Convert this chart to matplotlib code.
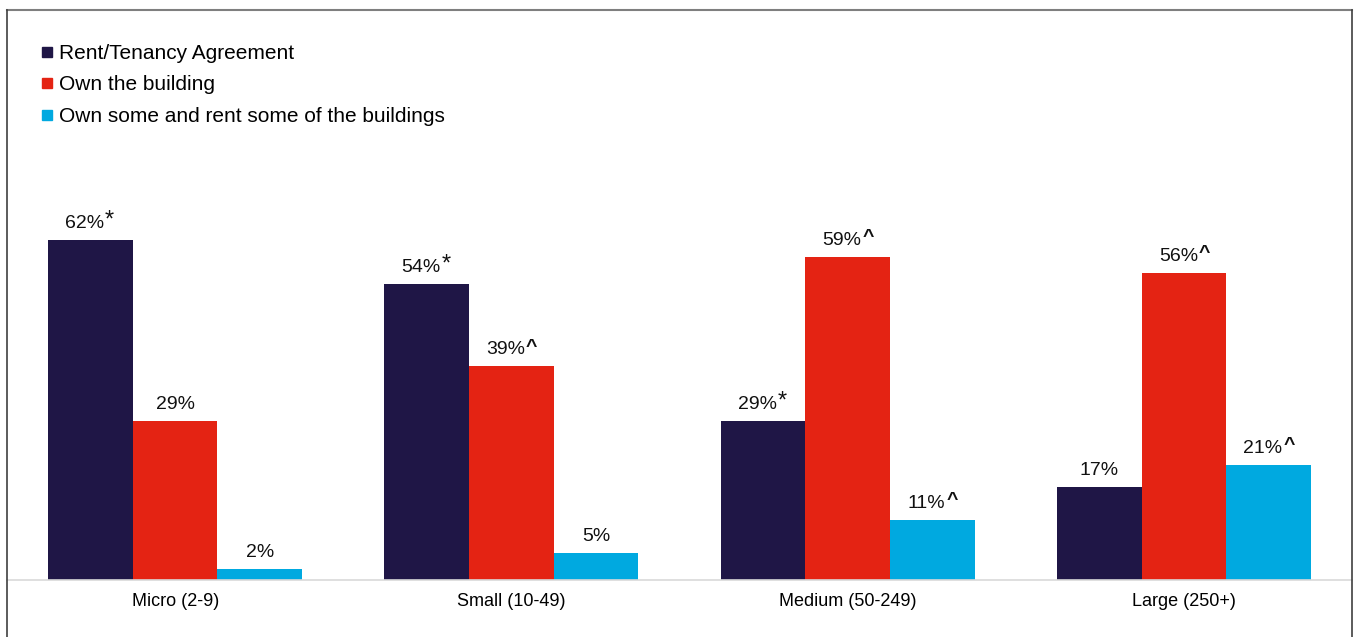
import numpy as np
import matplotlib.pyplot as plt
from matplotlib.lines import Line2D

plt.rcParams['font.family'] = ['Liberation Sans', 'DejaVu Sans']

sizes = ['Micro (2-9)', 'Small (10-49)', 'Medium (50-249)', 'Large (250+)']
series = ['Rent/Tenancy Agreement', 'Own the building',
          'Own some and rent some of the buildings']
rent = [62, 54, 29, 17]
own = [29, 39, 59, 56]
mixed = [2, 5, 11, 21]
# significance markers shown after each label
rent_sig = ['*', '*', '*', '']
own_sig = ['', '^', '^', '^']
mixed_sig = ['', '', '^', '^']

colors = ['#1F1646', '#E42313', '#00A9E0']

W, H = 1357, 637
fig = plt.figure(figsize=(W / 100, H / 100), dpi=100)
ax = fig.add_axes([7 / W, (H - 580) / H, (1352 - 7) / W, (580 - 10) / H])

x = np.arange(len(sizes))
width = 0.252
data = [rent, own, mixed]
sigs = [rent_sig, own_sig, mixed_sig]

for i, (vals, sig, col) in enumerate(zip(data, sigs, colors)):
    xs = x + (i - 1) * width
    ax.bar(xs, vals, width, color=col, label=series[i], zorder=2)
    for xi, v, s in zip(xs, vals, sig):
        shift = -4 if s else 0
        t = ax.annotate(f'{v}%', (xi, v), xytext=(shift, 8.5),
                        textcoords='offset points', ha='center',
                        va='baseline', fontsize=14, color='#111111')
        if s == '*':
            ax.annotate(s, xy=(1.0, 1.0), xycoords=t, xytext=(0.5, 4),
                        textcoords='offset points', ha='left', va='top',
                        fontsize=17, color='#111111')
        elif s == '^':
            ax.annotate(s, xy=(1.0, 1.0), xycoords=t, xytext=(0.5, 2.0),
                        textcoords='offset points', ha='left', va='top',
                        fontsize=14, color='#111111', fontweight='bold')

ax.set_xlim(-0.5, 3.5)
ax.set_ylim(0, 104)
ax.set_xticks(x)
ax.set_xticklabels(sizes, fontsize=13)
ax.tick_params(axis='x', length=0, pad=9)
ax.set_yticks([])
for side in ['top', 'right', 'left']:
    ax.spines[side].set_visible(False)
ax.spines['bottom'].set_color('#D9D9D9')
ax.spines['bottom'].set_linewidth(1.2)

handles = [Line2D([], [], marker='s', linestyle='', markersize=7.5,
                  color=c) for c in colors]
fig.legend(handles, series, loc='upper left',
           bbox_to_anchor=(40 / W, 1 - 44 / H), frameon=False,
           fontsize=15, handlelength=0.7, handletextpad=0.2,
           labelspacing=0.6, borderpad=0, borderaxespad=0)

# outer frame
fy = 1 - 10 / H
fig.add_artist(Line2D([7 / W, 1352 / W], [fy, fy], color='#7F7F7F', lw=1.5))
fig.add_artist(Line2D([7 / W, 7 / W], [0, fy], color='#404040', lw=1.2))
fig.add_artist(Line2D([1352 / W, 1352 / W], [0, fy], color='#404040', lw=1.2))

fig.savefig('out.png', dpi=100)
